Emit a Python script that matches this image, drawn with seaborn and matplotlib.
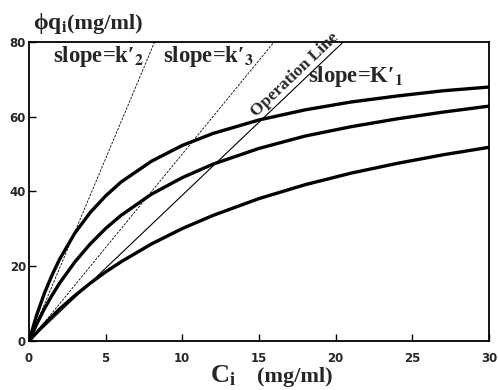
import numpy as np
import pandas as pd
import matplotlib
matplotlib.use('Agg')
import matplotlib.pyplot as plt
import seaborn as sns

sns.set_theme(style='ticks')
plt.rcParams['font.family'] = ['Liberation Serif', 'DejaVu Serif']
plt.rcParams['mathtext.fontset'] = 'stix'

# liquid concentration C_i (mg/ml)
conc = [0, 0.5, 1, 1.5, 2, 3, 4, 5, 6, 8, 10, 12, 15, 18, 21, 24, 27, 30]
# adsorbed amount phi*q_i (mg/ml), three isotherms
q_top = [0, 6.9, 12.7, 17.6, 21.9, 28.9, 34.4, 38.8, 42.5, 48.1, 52.3, 55.5,
         59.1, 61.8, 63.9, 65.5, 66.9, 67.9]
q_mid = [0, 4.5, 8.6, 12.2, 15.5, 21.2, 26.0, 30.1, 33.6, 39.3, 43.7, 47.3,
         51.5, 54.8, 57.3, 59.4, 61.2, 62.8]
q_low = [0, 2.3, 4.5, 6.6, 8.6, 12.2, 15.5, 18.5, 21.2, 26.0, 30.1, 33.6,
         38.1, 41.8, 44.9, 47.5, 49.8, 51.8]

# straight lines through the origin
slope_k2 = 9.75
slope_k3 = 5.0
slope_op = 3.9

xticks = [0, 5, 10, 15, 20, 25, 30]
yticks = [0, 20, 40, 60, 80]

df = pd.DataFrame({
    'C': conc * 3,
    'q': q_top + q_mid + q_low,
    'curve': ['top'] * len(conc) + ['mid'] * len(conc) + ['low'] * len(conc),
})

fig = plt.figure(figsize=(4.98, 3.9), dpi=100)
ax = fig.add_axes([0.058, 0.125, 0.924, 0.768])

sns.lineplot(data=df, x='C', y='q', hue='curve', palette=['black'] * 3,
             legend=False, lw=2.4, sort=False, ax=ax)

ax.axline((0, 0), slope=slope_k2, color='black', lw=0.6, ls=(0, (3, 1.5)))
ax.axline((0, 0), slope=slope_k3, color='black', lw=0.6, ls=(0, (3, 1.5)))
ax.axline((0, 0), slope=slope_op, color='black', lw=0.8)

ax.set_xlim(0, 30)
ax.set_ylim(0, 80)
ax.set_xticks(xticks)
ax.set_yticks(yticks)
ax.set_xlabel('')
ax.set_ylabel('')
for s in ax.spines.values():
    s.set_linewidth(1.3)
    s.set_color('black')
ax.tick_params(direction='in', length=5, width=1, color='black')
ax.tick_params(axis='x', pad=8)
ax.tick_params(axis='y', pad=2)
for lab in ax.get_xticklabels() + ax.get_yticklabels():
    lab.set_family('DejaVu Sans')
    lab.set_fontweight('bold')
    lab.set_fontsize(8.5)

# labels on the lines
ax.text(1.57, 74.6, "slope=k\u2032$_{\\mathbf{2}}$", fontsize=16.3,
        fontweight='bold', va='baseline')
ax.text(8.74, 74.6, "slope=k\u2032$_{\\mathbf{3}}$", fontsize=16.3,
        fontweight='bold', va='baseline')
ax.text(18.2, 69.3, "slope=K\u2032$_{\\mathbf{1}}$", fontsize=16.3,
        fontweight='bold', va='baseline')
ax.text(15.0, 59.0, 'Operation Line', fontsize=12.5, fontweight='bold',
        rotation=np.degrees(np.arctan(slope_op)), transform_rotates_text=True,
        rotation_mode='anchor', ha='left', va='bottom')

# axis titles
fig.text(0.066, 0.926, r'ϕq$_{\mathbf{i}}$', fontsize=17, fontweight='bold',
         family=['Liberation Serif', 'DejaVu Serif'], va='baseline')
fig.text(0.1345, 0.926, '(mg/ml)', fontsize=16, fontweight='bold', va='baseline')
fig.text(0.4217, 0.0205, r'C$_{\mathbf{i}}$', fontsize=19, fontweight='bold',
         va='baseline')
fig.text(0.516, 0.0205, '(mg/ml)', fontsize=16, fontweight='bold', va='baseline')

fig.savefig('out.png', dpi=100)
